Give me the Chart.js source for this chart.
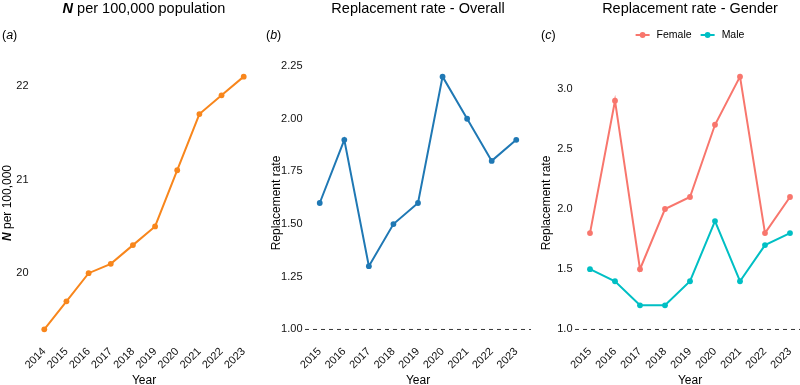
<!DOCTYPE html>
<html>
<head>
<meta charset="utf-8">
<script src="https://cdn.jsdelivr.net/npm/chart.js@4.4.1/dist/chart.umd.min.js"></script>
<style>
  html, body { margin: 0; padding: 0; background: #fff; overflow: hidden; width: 800px; height: 385px; }
  canvas { position: absolute; top: 0; }
  #panelA { left: 0; }
  #panelB { left: 265px; }
  #panelC { left: 535px; }
</style>
</head>
<body>
<canvas id="panelA" width="265" height="385"></canvas>
<canvas id="panelB" width="270" height="385"></canvas>
<canvas id="panelC" width="275" height="385"></canvas>
<script>
// data
const yearsA = ['2014', '2015', '2016', '2017', '2018', '2019', '2020', '2021', '2022', '2023'];
const nPer100k = [19.4, 19.7, 20.0, 20.1, 20.3, 20.5, 21.1, 21.7, 21.9, 22.1];

const yearsB = ['2015', '2016', '2017', '2018', '2019', '2020', '2021', '2022', '2023'];
const rateOverall = [1.6, 1.9, 1.3, 1.5, 1.6, 2.2, 2.0, 1.8, 1.9];
const rateFemale = [1.8, 2.9, 1.5, 2.0, 2.1, 2.7, 3.1, 1.8, 2.1];
const rateMale = [1.5, 1.4, 1.2, 1.2, 1.4, 1.9, 1.4, 1.7, 1.8];

const ticksA = [20, 21, 22];
const ticksB = [1.00, 1.25, 1.50, 1.75, 2.00, 2.25];
const ticksC = [1.0, 1.5, 2.0, 2.5, 3.0];
const refLine = 1;

const FONT = "'Liberation Sans', Arial, Helvetica, sans-serif";

function toXY(values) {
  return values.map((v, i) => ({ x: i, y: v }));
}

// draws a run of text pieces with their own font styles
function drawParts(ctx, parts, x, y, size, align) {
  var total = 0;
  parts.forEach(function (p) {
    ctx.font = (p[1] ? p[1] + ' ' : '') + size + 'px ' + FONT;
    total += ctx.measureText(p[0]).width;
  });
  var cx = align === 'center' ? x - total / 2 : x;
  ctx.textAlign = 'left';
  parts.forEach(function (p) {
    ctx.font = (p[1] ? p[1] + ' ' : '') + size + 'px ' + FONT;
    ctx.fillText(p[0], cx, y);
    cx += ctx.measureText(p[0]).width;
  });
}

const decorPlugin = {
  id: 'decor',
  afterDraw(chart, args, opts) {
    const ctx = chart.ctx;
    const area = chart.chartArea;
    const mid = (area.left + area.right) / 2;
    ctx.save();
    ctx.fillStyle = '#000';
    ctx.textBaseline = 'alphabetic';
    drawParts(ctx, opts.title, mid, 13, 14.5, 'center');
    drawParts(ctx, [['(', ''], [opts.tag, 'italic'], [')', '']], opts.tagX, 39, 12.5, 'left');
    drawParts(ctx, [['Year', '']], mid, 384, 12, 'center');

    if (opts.legend) {
      // legend entries come from the labelled datasets
      const items = chart.data.datasets.filter(d => d.label);
      ctx.font = '10.5px ' + FONT;
      var total = 0;
      items.forEach(function (d, i) {
        total += 21 + ctx.measureText(d.label).width + (i < items.length - 1 ? 9 : 0);
      });
      var lx = mid - total / 2;
      items.forEach(function (d) {
        ctx.strokeStyle = d.borderColor;
        ctx.lineWidth = 2;
        ctx.beginPath();
        ctx.moveTo(lx, 35);
        ctx.lineTo(lx + 14, 35);
        ctx.stroke();
        ctx.fillStyle = d.borderColor;
        ctx.beginPath();
        ctx.arc(lx + 7, 35, 2.9, 0, Math.PI * 2);
        ctx.fill();
        ctx.fillStyle = '#000';
        ctx.font = '10.5px ' + FONT;
        ctx.textBaseline = 'middle';
        ctx.fillText(d.label, lx + 21, 35.5);
        lx += 21 + ctx.measureText(d.label).width + 9;
      });
    }

    ctx.translate(opts.yTitleX, (area.top + area.bottom) / 2);
    ctx.rotate(-Math.PI / 2);
    ctx.textBaseline = 'middle';
    drawParts(ctx, opts.yTitle, 0, 0, 12, 'center');
    ctx.restore();
  }
};

function makeScales(years, yTicks, yMin, yMax, decimals, yWidth) {
  return {
    x: {
      type: 'linear',
      min: -0.6,
      max: years.length - 1 + 0.6,
      grid: { display: false, drawTicks: false },
      border: { display: false },
      afterBuildTicks: function (axis) {
        axis.ticks = years.map((y, i) => ({ value: i }));
      },
      afterFit: function (axis) { axis.height = 43; },
      ticks: {
        autoSkip: false,
        minRotation: 45,
        maxRotation: 45,
        padding: 3,
        color: '#111',
        font: { family: FONT, size: 11 },
        callback: function (v) { return years[v]; }
      }
    },
    y: {
      min: yMin,
      max: yMax,
      grid: { display: false, drawTicks: false },
      border: { display: false },
      afterBuildTicks: function (axis) {
        axis.ticks = yTicks.map(v => ({ value: v }));
      },
      afterFit: function (axis) { axis.width = yWidth; },
      ticks: {
        padding: 2.5,
        color: '#111',
        font: { family: FONT, size: 11 },
        callback: function (v) { return Number(v).toFixed(decimals); }
      }
    }
  };
}

function lineSet(label, values, color) {
  return {
    label: label,
    data: toXY(values),
    borderColor: color,
    backgroundColor: color,
    borderWidth: 2,
    pointRadius: 2.9,
    pointBorderWidth: 0,
    pointBackgroundColor: color,
    tension: 0
  };
}

function refSet(n) {
  return {
    data: [{ x: -0.6, y: refLine }, { x: n - 1 + 0.6, y: refLine }],
    borderColor: '#000',
    borderWidth: 0.8,
    borderDash: [4, 4],
    pointRadius: 0,
    tension: 0
  };
}

function baseOptions(scales, padRight, decor) {
  return {
    responsive: false,
    animation: false,
    layout: { padding: { left: 0, right: padRight, top: 64, bottom: 0 } },
    scales: scales,
    plugins: {
      legend: { display: false },
      tooltip: { enabled: false },
      decor: decor
    }
  };
}

new Chart(document.getElementById('panelA'), {
  type: 'line',
  data: { datasets: [lineSet(null, nPer100k, '#F8861C')] },
  options: baseOptions(makeScales(yearsA, ticksA, 19.265, 22.235, 0, 31), 8, {
    title: [['N', 'italic bold'], [' per 100,000 population', '']],
    tag: 'a', tagX: 2,
    yTitle: [['N', 'italic bold'], [' per 100,000', '']],
    yTitleX: 8
  }),
  plugins: [decorPlugin]
});

new Chart(document.getElementById('panelB'), {
  type: 'line',
  data: { datasets: [refSet(yearsB.length), lineSet(null, rateOverall, '#1F78B4')] },
  options: baseOptions(makeScales(yearsB, ticksB, 0.94, 2.26, 2, 40), 0, {
    title: [['Replacement rate - Overall', '']],
    tag: 'b', tagX: 1,
    yTitle: [['Replacement rate', '']],
    yTitleX: 12
  }),
  plugins: [decorPlugin]
});

new Chart(document.getElementById('panelC'), {
  type: 'line',
  data: {
    datasets: [
      refSet(yearsB.length),
      lineSet('Female', rateFemale, '#F8766D'),
      lineSet('Male', rateMale, '#00BFC4')
    ]
  },
  options: baseOptions(makeScales(yearsB, ticksC, 0.895, 3.205, 1, 40), 5, {
    title: [['Replacement rate - Gender', '']],
    tag: 'c', tagX: 6,
    yTitle: [['Replacement rate', '']],
    yTitleX: 12,
    legend: true
  }),
  plugins: [decorPlugin]
});
</script>
</body>
</html>
